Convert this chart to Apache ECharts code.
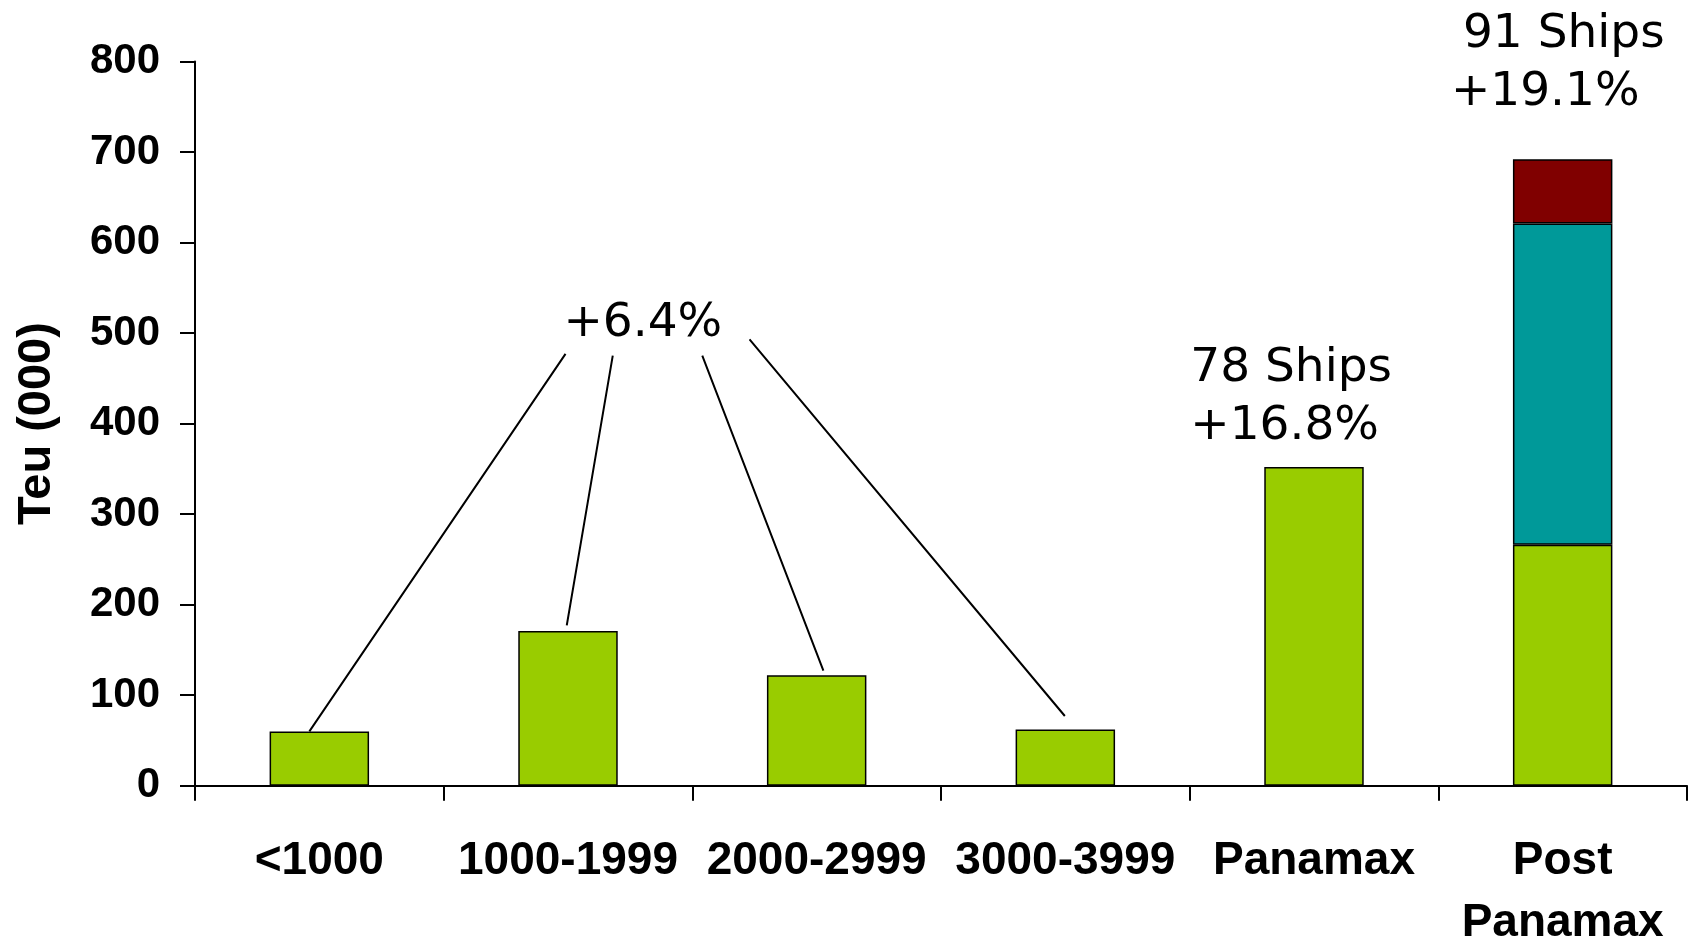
<!DOCTYPE html>
<html>
<head>
<meta charset="utf-8">
<title>Teu by ship size</title>
<script src="https://cdn.jsdelivr.net/npm/echarts@6/dist/echarts.min.js"></script>
<style>
  html, body { margin: 0; padding: 0; background: #ffffff; }
  #chart { width: 1690px; height: 942px; }
</style>
</head>
<body>
<div id="chart"></div>
<script>
// Ship size classes along the x axis
const categories = ['<1000', '1000-1999', '2000-2999', '3000-3999', 'Panamax', 'Post\nPanamax'];

// Teu (000) per class, stacked in three parts for the largest class
const baseTeu  = [60, 171, 122, 62, 352, 266];
const midTeu   = [null, null, null, null, null, 355];
const topTeu   = [null, null, null, null, null, 71];

// Value-axis ticks
const yTicks = [0, 100, 200, 300, 400, 500, 600, 700, 800];

// Leader lines from the shared growth note down to the four smaller classes,
// as [category position, Teu] pairs
const leaderLines = [
  [[0.99, 477], [-0.04, 60]],
  [[1.18, 475], [0.995, 177]],
  [[1.54, 475], [2.027, 127]],
  [[1.73, 493], [2.998, 77]]
];

// Shared growth note for the four smaller classes: text and [category position, Teu]
const sharedNote = { text: '+6.4%', at: [1.301, 510] };

// Notes above the two largest classes
const panamaxNote = ['78 Ships', '+16.8%'];
const postPanamaxNote = ['91 Ships', '+19.1%'];

const GREEN = '#99CC00';
const TEAL = '#009999';
const MAROON = '#800000';
const NOTE_FONT = 'DejaVu Sans';
const NOTE_SIZE = 47;
const AXIS_FONT = 'Liberation Sans';

const leaderData = [];
leaderLines.forEach(function (seg, i) {
  if (i > 0) leaderData.push([null, null]);
  leaderData.push(seg[0], seg[1]);
});

const chart = echarts.init(document.getElementById('chart'), null, { renderer: 'canvas' });

const barBorder = { borderColor: '#000000', borderWidth: 1.5 };

chart.setOption({
  animation: false,
  backgroundColor: '#ffffff',
  grid: {
    left: 195, right: 3, top: 61.4, bottom: 156.3,
    containLabel: false,
    outerBoundsMode: 'none'
  },
  xAxis: [
    {
      type: 'category',
      data: categories,
      boundaryGap: true,
      axisLine: { onZero: false, lineStyle: { color: '#000000', width: 2 } },
      axisTick: { show: true, interval: 0, length: 15, lineStyle: { color: '#000000', width: 2 } },
      axisLabel: {
        interval: 0,
        margin: 45,
        fontFamily: AXIS_FONT,
        fontWeight: 'bold',
        fontSize: 46,
        lineHeight: 62,
        color: '#000000'
      }
    },
    {
      type: 'value',
      min: -0.5,
      max: 5.5,
      show: false
    }
  ],
  yAxis: {
    type: 'value',
    min: yTicks[0],
    max: yTicks[yTicks.length - 1],
    interval: yTicks[1] - yTicks[0],
    name: 'Teu (000)',
    nameLocation: 'middle',
    nameGap: 134,
    nameTextStyle: { fontFamily: AXIS_FONT, fontWeight: 'bold', fontSize: 47, color: '#000000' },
    axisLine: { show: true, onZero: false, lineStyle: { color: '#000000', width: 2 } },
    axisTick: { show: true, length: 15, lineStyle: { color: '#000000', width: 2 } },
    splitLine: { show: false },
    axisLabel: {
      margin: 35,
      fontFamily: AXIS_FONT,
      fontWeight: 'bold',
      fontSize: 42,
      color: '#000000'
    }
  },
  series: [
    {
      type: 'bar',
      stack: 'teu',
      barWidth: '40%',
      data: baseTeu.map(function (v, i) {
        if (i !== 4) return v;
        return {
          value: v,
          label: {
            show: true,
            position: [-74, -127],
            align: 'left',
            verticalAlign: 'top',
            formatter: panamaxNote.join('\n'),
            fontFamily: NOTE_FONT,
            fontSize: NOTE_SIZE,
            lineHeight: 58,
            color: '#000000'
          }
        };
      }),
      itemStyle: Object.assign({ color: GREEN }, barBorder)
    },
    {
      type: 'bar',
      stack: 'teu',
      barWidth: '40%',
      data: midTeu,
      itemStyle: Object.assign({ color: TEAL }, barBorder)
    },
    {
      type: 'bar',
      stack: 'teu',
      barWidth: '40%',
      data: topTeu.map(function (v) {
        if (v == null) return v;
        return {
          value: v,
          label: {
            show: true,
            position: [-62, -153],
            align: 'left',
            verticalAlign: 'top',
            formatter: '{a|' + postPanamaxNote[0] + '}\n{b|' + postPanamaxNote[1] + '}',
            rich: {
              a: { fontFamily: NOTE_FONT, fontSize: NOTE_SIZE, lineHeight: 58, color: '#000000', padding: [0, 0, 0, 12] },
              b: { fontFamily: NOTE_FONT, fontSize: NOTE_SIZE, lineHeight: 58, color: '#000000' }
            }
          }
        };
      }),
      itemStyle: Object.assign({ color: MAROON }, barBorder)
    },
    {
      type: 'line',
      xAxisIndex: 1,
      data: leaderData,
      connectNulls: false,
      symbol: 'none',
      silent: true,
      lineStyle: { color: '#000000', width: 2 },
      z: 5
    },
    {
      type: 'scatter',
      xAxisIndex: 1,
      data: [sharedNote.at],
      symbolSize: 0,
      silent: true,
      itemStyle: { opacity: 1 },
      label: {
        show: true,
        position: [0, 0],
        align: 'center',
        verticalAlign: 'middle',
        formatter: sharedNote.text,
        fontFamily: NOTE_FONT,
        fontSize: NOTE_SIZE,
        color: '#000000',
        opacity: 1
      }
    }
  ]
});
</script>
</body>
</html>
